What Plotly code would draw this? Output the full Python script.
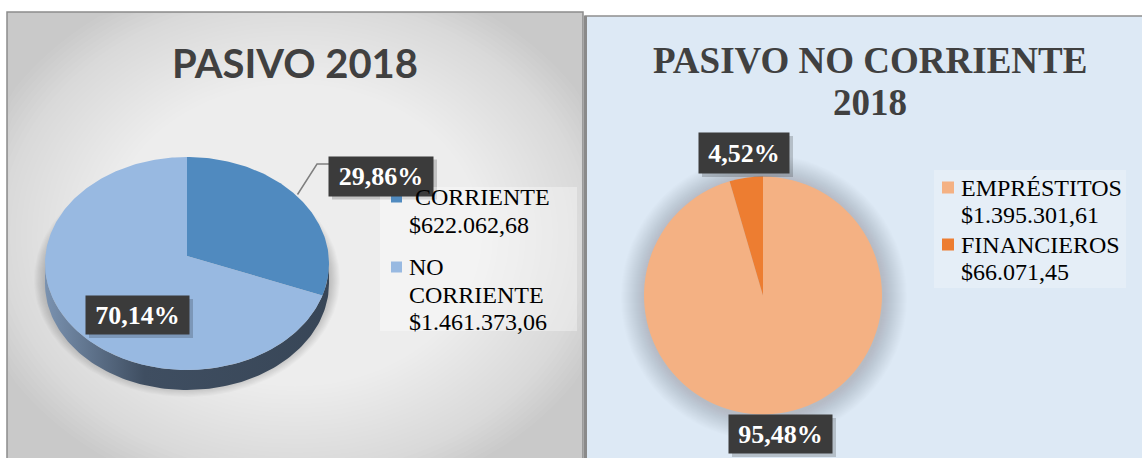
import numpy as np
import plotly.graph_objects as go

# ---- data -------------------------------------------------------------
pasivo_title = "PASIVO 2018"
pasivo_labels = ["CORRIENTE", "NO CORRIENTE"]
pasivo_values = [622062.68, 1461373.06]
pasivo_colors = ["#508ABF", "#98B9E1"]

nc_title = ["PASIVO NO CORRIENTE", "2018"]
nc_labels = ["EMPRÉSTITOS", "FINANCIEROS"]
nc_values = [1395301.61, 66071.45]
nc_colors = ["#F4B183", "#ED7D31"]

W, H = 1142, 458


def money(v):
    s = f"{v:,.2f}"
    return "$" + s.replace(",", "X").replace(".", ",").replace("X", ".")


def pct(v, total):
    return f"{100 * v / total:.2f}%".replace(".", ",")


fig = go.Figure()
shapes = []
annotations = []

# ---- panel backgrounds -------------------------------------------------
# right panel: flat light blue
shapes.append(dict(type="rect", x0=585, x1=1150, y0=16, y1=470, layer="below",
                   fillcolor="#DDE9F5", line=dict(color="#8E8E8E", width=1.5)))
shapes.append(dict(type="line", x0=585.5, x1=585.5, y0=16, y1=470, layer="below",
                   line=dict(color="#8A8A8A", width=3)))

# soft shadow around the right pie
pie_cx, pie_cy, pie_r = 763, 295.5, 119
for k in range(24, 0, -1):
    shapes.append(dict(type="circle", layer="below",
                       x0=pie_cx + 1 - pie_r - k, x1=pie_cx + 1 + pie_r + k,
                       y0=pie_cy + 2 - pie_r - k, y1=pie_cy + 2 + pie_r + k,
                       fillcolor="rgba(100,115,135,0.014)", line=dict(width=0)))

# left panel: grey base brightened towards the centre by stacked white ellipses
PX0, PX1, PY0, PY1 = 7, 583, 12, 470
fig.add_trace(go.Scatter(
    x=[PX0, PX1, PX1, PX0, PX0], y=[PY0, PY0, PY1, PY1, PY0], mode="lines",
    fill="toself", fillcolor="#C9C9C9", line=dict(width=0),
    hoverinfo="skip", showlegend=False))
gcx, gcy = 295, 235
ring_t = np.linspace(0, 2 * np.pi, 121)
for s in np.linspace(1.15, 0.05, 60):
    ex = np.clip(gcx + 290 * s * np.cos(ring_t), PX0 + 1, PX1 - 1)
    ey = np.clip(gcy + 235 * s * np.sin(ring_t), PY0 + 1, PY1)
    fig.add_trace(go.Scatter(x=ex, y=ey, mode="lines", fill="toself",
                             fillcolor="rgba(255,255,255,0.052)", line=dict(width=0),
                             hoverinfo="skip", showlegend=False))
fig.add_trace(go.Scatter(
    x=[PX0, PX1, PX1, PX0, PX0], y=[PY1, PY1, PY0, PY0, PY1], mode="lines",
    line=dict(color="#8C8C8C", width=1.5), hoverinfo="skip", showlegend=False))

# ---- left 3D pie (elliptical top face + side wall) --------------------
cx, cy, rx, ry, depth = 187, 263.5, 142, 106.5, 20
apex = (187, 256)

def ell(t_deg, dy=0.0, grow=0.0):
    t = np.radians(t_deg)
    return cx + (rx + grow) * np.cos(t), cy + dy - (ry + grow) * np.sin(t)

# drop shadow under the pie
for k in range(10, 0, -1):
    tt = np.linspace(0, 360, 181)
    xs, ys = ell(tt, dy=16, grow=k * 1.1)
    fig.add_trace(go.Scatter(x=xs, y=ys, mode="lines", fill="toself",
                             fillcolor="rgba(0,0,0,0.02)", line=dict(width=0),
                             hoverinfo="skip", showlegend=False))

# side wall (front half of the cylinder)
tt = np.linspace(180, 360, 121)
xt, yt = ell(tt)
xb, yb = ell(tt[::-1], dy=depth)
fig.add_trace(go.Scatter(
    x=np.concatenate([xt, xb]), y=np.concatenate([yt, yb]), mode="lines",
    fill="toself", line=dict(width=0),
    fillgradient=dict(type="horizontal", start=cx - rx, stop=cx + rx,
                      colorscale=[[0, "#7A92B0"], [0.35, "#3F4E61"], [1, "#384657"]]),
    hoverinfo="skip", showlegend=False))

# top face slices, clockwise from 12 o'clock
total_p = sum(pasivo_values)
start = 90.0
mids = []
for lab, v, col in zip(pasivo_labels, pasivo_values, pasivo_colors):
    sweep = 360.0 * v / total_p
    tt = np.linspace(start, start - sweep, max(int(sweep), 2) + 1)
    xa, ya = ell(tt)
    fig.add_trace(go.Scatter(
        x=np.concatenate([[apex[0]], xa, [apex[0]]]),
        y=np.concatenate([[apex[1]], ya, [apex[1]]]),
        mode="lines", fill="toself", fillcolor=col, line=dict(width=0),
        name=lab, hoverinfo="skip", showlegend=False))
    mids.append(start - sweep / 2)
    start -= sweep

# ---- right pie ---------------------------------------------------------
fig.add_trace(go.Pie(
    labels=nc_labels, values=nc_values, sort=False, direction="clockwise",
    rotation=0, marker=dict(colors=nc_colors, line=dict(width=0)),
    textinfo="none", hoverinfo="skip", showlegend=False,
    domain=dict(x=[(pie_cx - pie_r) / W, (pie_cx + pie_r) / W],
                y=[1 - (pie_cy + pie_r) / H, 1 - (pie_cy - pie_r) / H])))

# ---- titles ------------------------------------------------------------
annotations.append(dict(x=295, y=63, text=f"<b>{pasivo_title}</b>", showarrow=False,
                        font=dict(family="Lato", size=40, color="#404040")))
annotations.append(dict(x=869.5, y=60, text=f"<b>{nc_title[0]}</b>", showarrow=False,
                        font=dict(family="Liberation Serif", size=37, color="#404040")))
annotations.append(dict(x=869.5, y=102, text=f"<b>{nc_title[1]}</b>", showarrow=False,
                        font=dict(family="Liberation Serif", size=37, color="#404040")))

# ---- data labels (dark boxes) -----------------------------------------
def data_label(x, y, w, h, text):
    shapes.append(dict(type="rect", layer="above", x0=x - w / 2 + 3, x1=x + w / 2 + 4,
                       y0=y - h / 2 + 3, y1=y + h / 2 + 4,
                       fillcolor="rgba(0,0,0,0.18)", line=dict(width=0)))
    annotations.append(dict(x=x, y=y, text=f"<b>{text}</b>", showarrow=False,
                            width=w, height=h, borderpad=0, bgcolor="#3B3B3B",
                            font=dict(family="Liberation Serif", size=26, color="white")))

# leader line for the small slice of the left pie
lx, ly = ell(mids[0])
shapes.append(dict(type="path", layer="above",
                   path=f"M {lx - 4:.1f} {ly - 6:.1f} L 317 164 L 330 164",
                   line=dict(color="#7F7F7F", width=1.5)))

data_label(381, 176, 104, 39, pct(pasivo_values[0], total_p))
data_label(137.5, 315, 103, 38, pct(pasivo_values[1], total_p))

total_nc = sum(nc_values)
data_label(744, 153, 90, 40, pct(nc_values[1], total_nc))
data_label(780.5, 434, 103, 38, pct(nc_values[0], total_nc))

# ---- legends -----------------------------------------------------------
LEG_FONT = dict(family="Liberation Serif", size=24, color="black")

# left legend
shapes.append(dict(type="rect", layer="above", x0=380, x1=577, y0=187, y1=331,
                   fillcolor="rgba(255,255,255,0.35)", line=dict(width=0)))
left_rows = [(197, 413), (267, 407)]
for (row_y, tx), lab, v, col in zip(left_rows, pasivo_labels, pasivo_values, pasivo_colors):
    shapes.append(dict(type="rect", layer="above", x0=391, x1=402, y0=row_y - 5.5,
                       y1=row_y + 5.5, fillcolor=col, line=dict(width=0)))
    lines = lab.split(" ") + [money(v)]
    for i, line in enumerate(lines):
        annotations.append(dict(x=tx if i == 0 else 407, y=row_y + i * 27.5, text=line,
                                showarrow=False, xanchor="left", yanchor="middle",
                                font=LEG_FONT))

# right legend
shapes.append(dict(type="rect", layer="above", x0=934, x1=1126, y0=170, y1=288,
                   fillcolor="rgba(255,255,255,0.25)", line=dict(width=0)))
right_rows = [187.5, 244.5]
for row_y, lab, v, col in zip(right_rows, nc_labels, nc_values, nc_colors):
    shapes.append(dict(type="rect", layer="above", x0=942, x1=954, y0=row_y - 6,
                       y1=row_y + 6, fillcolor=col, line=dict(width=0)))
    for i, line in enumerate([lab, money(v)]):
        annotations.append(dict(x=959, y=row_y + i * 27.5, text=line, showarrow=False,
                                xanchor="left", yanchor="middle", font=LEG_FONT))

fig.update_layout(
    width=W, height=H, margin=dict(l=0, r=0, t=0, b=0),
    paper_bgcolor="white", plot_bgcolor="rgba(0,0,0,0)",
    xaxis=dict(range=[0, W], visible=False, fixedrange=True),
    yaxis=dict(range=[H, 0], visible=False, fixedrange=True),
    shapes=shapes, annotations=annotations, hovermode=False,
)

fig.write_html("out.html")
